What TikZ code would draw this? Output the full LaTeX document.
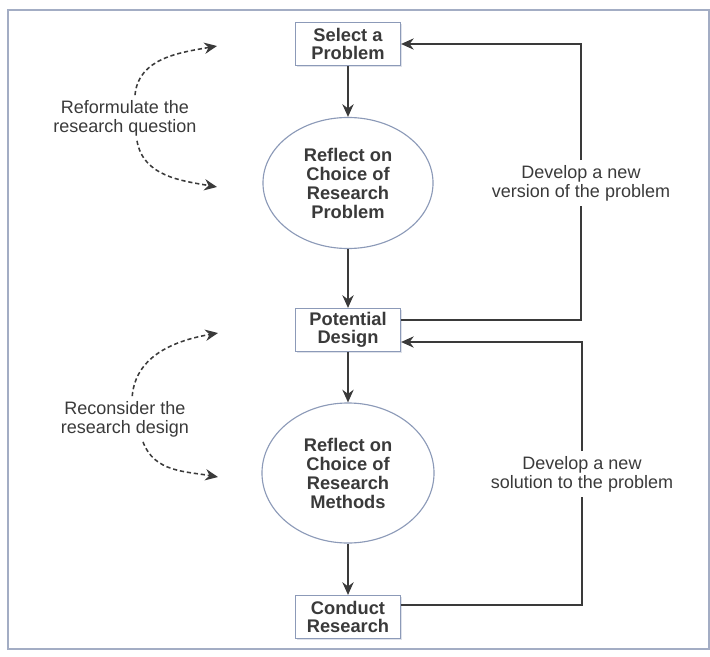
\documentclass[tikz,border=0pt]{standalone}
\usepackage{fontspec}
\setmainfont{Liberation Sans}
\usetikzlibrary{arrows.meta, shapes, shadows, positioning}

\definecolor{frameblue}{HTML}{A3ADC4}
\definecolor{boxblue}{HTML}{8C9AB8}
\definecolor{inkgrey}{HTML}{3A3A3A}

\begin{document}
\begin{tikzpicture}[x=0.025cm,y=-0.025cm,>={Stealth[length=9pt,width=8pt]},
      box node/.style={rectangle,draw=boxblue,line width=0.8pt,fill=white,
        drop shadow={fill=frameblue,opacity=0.35,shadow xshift=0.8pt,shadow yshift=-0.8pt},
        minimum width=2.625cm,minimum height=1.075cm,inner sep=2pt,align=center,
        text=inkgrey,font=\bfseries\fontsize{13}{13}\selectfont},
      oval node/.style={ellipse,draw=boxblue,line width=0.8pt,fill=white,inner sep=0pt,
        align=center,text=inkgrey,font=\bfseries\fontsize{13}{13.5}\selectfont},
      note/.style={align=center,text=inkgrey,font=\fontsize{12.8}{13.5}\selectfont},
      flow/.style={->,draw=inkgrey,line width=1.4pt},
      loop/.style={draw=inkgrey,line width=1.1pt},
      hint/.style={->,draw=inkgrey,line width=1.1pt,dash pattern=on 3pt off 2pt}]

      \useasboundingbox (0,0) rectangle (710,657);
      \draw[frameblue,line width=1.5pt] (8,10) rectangle (709,649);

      % main column
      \node[box node] (sel) at (348,44) {Select a\\Problem};
      \node[oval node,minimum width=4.25cm,minimum height=3.275cm] (ell1) at (348,183)
        {Reflect on\\Choice of\\Research\\Problem};
      \node[box node] (pot) at (348,330) {Potential\\Design};
      \node[oval node,minimum width=4.3cm,minimum height=3.5cm] (ell2) at (348,473)
        {Reflect on\\Choice of\\Research\\Methods};
      \node[box node] (cond) at (348,617) {Conduct\\Research};

      \foreach \s/\t in {sel/ell1, ell1/pot, pot/ell2, ell2/cond} {
          \draw[flow] (\s) -- (\t);}

      % feedback loops on the right
      \node[note] (newver) at (581,183) {Develop a new\\version of the problem};
      \draw[loop] ([yshift=0.25cm]pot.east) -| (newver.south);
      \draw[loop,->] (newver.north) |- (sel.east);

      \node[note] (newsol) at (582,474) {Develop a new\\solution to the problem};
      \draw[loop] ([yshift=0.3cm]cond.east) -| (newsol.south);
      \draw[loop,->] (newsol.north) |- ([yshift=-0.3cm]pot.east);

      % dashed hints on the left
      \node[note] (reform) at (125,118) {Reformulate the\\research question};
      \coordinate (reformtop) at (217,46);
      \coordinate (reformbot) at (217,187);
      \draw[hint] ([xshift=0.25cm]reform.north) to[out=85,in=190] (reformtop);
      \draw[hint] ([xshift=0.3cm]reform.south) to[out=-80,in=170] (reformbot);

      \node[note] (recon) at (125,419) {Reconsider the\\research design};
      \coordinate (recontop) at (218,333);
      \coordinate (reconbot) at (218,477);
      \draw[hint] ([xshift=0.18cm]recon.north) to[out=85,in=190] (recontop);
      \draw[hint] ([xshift=0.45cm]recon.south) to[out=-70,in=170] (reconbot);
\end{tikzpicture}
\end{document}
